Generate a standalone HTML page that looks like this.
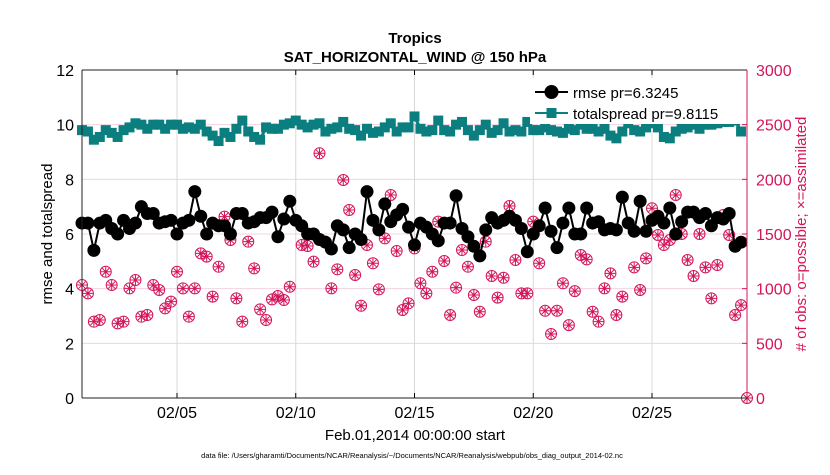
<!DOCTYPE html>
<html><head><meta charset="utf-8">
<style>
body{margin:0;background:#fff;}
svg text{font-family:"Liberation Sans",sans-serif;}
</style></head>
<body>
<svg id="chart" width="830" height="470" xmlns="http://www.w3.org/2000/svg">
<rect x="0" y="0" width="830" height="470" fill="#fff"/>
<g id="grid"></g>
<g id="series"></g>
<g id="axes"></g>
<text x="415" y="43" font-size="15" font-weight="bold" text-anchor="middle">Tropics</text>
<text x="415" y="62" font-size="15" font-weight="bold" text-anchor="middle">SAT_HORIZONTAL_WIND @ 150 hPa</text>
<text transform="translate(52,234) rotate(-90)" font-size="15" text-anchor="middle">rmse and totalspread</text>
<text transform="translate(806,234) rotate(-90)" font-size="15" text-anchor="middle" fill="#d4145a"># of obs: o=possible; ×=assimilated</text>
<text x="415" y="440" font-size="15" text-anchor="middle">Feb.01,2014 00:00:00 start</text>
<text x="412" y="458" font-size="7.5" text-anchor="middle">data file: /Users/gharamti/Documents/NCAR/Reanalysis/~/Documents/NCAR/Reanalysis/webpub/obs_diag_output_2014-02.nc</text>
<g id="legend">
<rect x="530" y="78" width="214" height="46" fill="#fff"/>
<line x1="535" y1="92" x2="568" y2="92" stroke="#000" stroke-width="2"/>
<circle cx="551.5" cy="92" r="7" fill="#000"/>
<text x="573" y="98" font-size="15">rmse pr=6.3245</text>
<line x1="535" y1="113" x2="568" y2="113" stroke="#0b7f7f" stroke-width="2"/>
<rect x="546.5" y="108" width="10" height="10" fill="#0b7f7f"/>
<text x="573" y="119" font-size="15">totalspread pr=9.8115</text>
</g>
</svg>
<script>
const rmse=[6.4,6.4,5.4,6.4,6.5,6.2,6.0,6.5,6.2,6.4,7.0,6.75,6.75,6.4,6.45,6.5,6.0,6.4,6.5,7.55,6.65,6.0,6.4,6.3,6.3,6.0,6.75,6.75,6.4,6.45,6.6,6.6,6.8,5.9,6.55,7.2,6.5,6.3,6.0,6.0,5.8,5.7,5.45,6.3,6.15,5.5,6.0,5.8,7.55,6.5,6.15,7.1,6.45,6.7,6.9,6.25,5.6,6.4,6.25,6.0,5.75,6.4,6.4,7.4,6.2,5.9,5.55,5.2,6.15,6.6,6.4,6.5,6.65,6.5,6.2,5.35,6.0,6.3,6.95,6.1,5.5,6.4,6.95,6.0,6.0,6.95,6.4,6.45,6.15,6.2,6.15,7.35,6.4,6.1,7.2,6.1,6.5,6.65,6.4,6.95,6.0,6.45,6.8,6.8,6.6,6.75,6.3,6.6,6.55,6.75,5.55,5.7];
const spread=[9.8,9.75,9.45,9.55,9.8,9.7,9.55,9.8,9.9,10.05,10.0,9.85,10.0,10.0,9.85,10.0,10.0,9.85,9.9,9.85,10.0,9.75,9.6,9.4,9.7,9.55,9.85,10.15,9.75,9.55,9.45,9.9,9.85,9.85,10.0,10.05,10.15,10.0,9.9,10.0,10.05,9.75,9.85,9.9,10.1,9.85,9.8,9.6,9.85,9.7,9.75,9.9,10.05,9.75,9.9,9.9,10.3,9.85,9.75,9.8,10.15,9.8,9.75,10.0,10.1,9.8,9.6,9.8,10.0,9.7,9.8,10.05,9.75,9.8,9.75,10.1,9.8,9.8,9.9,9.8,9.75,9.7,9.85,9.8,10.0,9.85,9.85,9.75,9.85,9.6,9.5,9.75,10.05,9.8,9.75,9.9,10.05,9.9,9.55,9.5,9.75,9.85,9.9,10.0,9.85,10.0,10.0,10.05,10.1,10.1,10.15,9.75];
const obs=[1033,957,698,713,1155,1033,683,698,1003,1079,744,759,1033,988,820,881,1155,1003,744,1003,1323,1293,927,1201,1659,1445,911,698,1430,1186,811,713,902,933,896,1018,1628,1399,1390,1247,2238,1430,1003,1177,1994,1720,1125,844,1399,1232,994,1460,1857,1344,805,866,1369,1049,957,1155,1613,1253,759,1009,1354,1201,942,789,1430,1116,918,1100,1756,1262,957,957,1613,1232,798,585,798,1049,667,978,1308,1268,789,698,1003,1140,759,927,1598,1195,988,1277,1735,1491,1399,1445,1857,1500,1262,1116,1500,1195,911,1216,1674,1491,759,850,0];
const yTicks=[0,2,4,6,8,10,12];
const y2Ticks=[0,500,1000,1500,2000,2500,3000];
const xTickDays=[4,9,14,19,24];
const xTickLabels=["02/05","02/10","02/15","02/20","02/25"];

const NS="http://www.w3.org/2000/svg";
const X0=82,X1=747,Y0=398,Y1=70;
function xs(d){return X0+(X1-X0)*d/28;}
function ys(v){return Y0-(Y0-Y1)*v/12;}
function ys2(v){return Y0-(Y0-Y1)*v/3000;}
function mk(tag,attrs,parent){const e=document.createElementNS(NS,tag);for(const k in attrs)e.setAttribute(k,attrs[k]);parent.appendChild(e);return e;}
const grid=document.getElementById('grid'),ser=document.getElementById('series'),axes=document.getElementById('axes');
yTicks.forEach(function(v){if(v>0&&v<12){const g=mk('line',{x1:X0,x2:X1,y1:ys(v),y2:ys(v),stroke:'#f3d3e2','stroke-width':1},grid);

}
const t=mk('text',{x:X0-8,y:ys(v)+6,'font-size':16,'text-anchor':'end'},axes);t.textContent=v;

});
y2Ticks.forEach(function(v){mk('line',{x1:X1,x2:X1-5,y1:ys2(v),y2:ys2(v),stroke:'#d4145a'},axes);
const t=mk('text',{x:X1+9,y:ys2(v)+6,'font-size':16,fill:'#d4145a'},axes);t.textContent=v;

});
xTickDays.forEach(function(d,i){const g=mk('line',{x1:xs(d),x2:xs(d),y1:Y1,y2:Y0,stroke:'#d8d8d8'},grid);


mk('line',{x1:xs(d),x2:xs(d),y1:Y0,y2:Y0-5,stroke:'#000'},axes);mk('line',{x1:xs(d),x2:xs(d),y1:Y1,y2:Y1+5,stroke:'#000'},axes);
const t=mk('text',{x:xs(d),y:Y0+20,'font-size':16,'text-anchor':'middle'},axes);t.textContent=xTickLabels[i];

});
mk('line',{x1:X0,x2:X1,y1:Y1,y2:Y1,stroke:'#222'},axes);
mk('line',{x1:X0,x2:X1,y1:Y0,y2:Y0,stroke:'#222'},axes);
mk('line',{x1:X0,x2:X0,y1:Y1,y2:Y0,stroke:'#222'},axes);
mk('line',{x1:X1,x2:X1,y1:Y1,y2:Y0,stroke:'#d4145a'},axes);
obs.forEach(function(v,i){const cx=xs(i*0.25),cy=ys2(v);
const g=mk('g',{},ser);


mk('circle',{cx:cx,cy:cy,r:5.5,fill:'none',stroke:'#d4145a','stroke-width':1},g);
mk('path',{d:'M'+(cx-5)+' '+cy+'H'+(cx+5)+'M'+cx+' '+(cy-5)+'V'+(cy+5)+'M'+(cx-3.5)+' '+(cy-3.5)+'L'+(cx+3.5)+' '+(cy+3.5)+'M'+(cx-3.5)+' '+(cy+3.5)+'L'+(cx+3.5)+' '+(cy-3.5),stroke:'#d4145a','stroke-width':1},g);});
const sp=mk('polyline',{points:spread.map(function(v,i){return xs(i*0.25)+','+ys(v);}).join(' '),fill:'none',stroke:'#0b7f7f','stroke-width':3},ser);


spread.forEach(function(v,i){const r=mk('rect',{x:xs(i*0.25)-5,y:ys(v)-5,width:10,height:10,fill:'#0b7f7f'},ser);

});
const rl=mk('polyline',{points:rmse.map(function(v,i){return xs(i*0.25)+','+ys(v);}).join(' '),fill:'none',stroke:'#000','stroke-width':2},ser);


rmse.forEach(function(v,i){const c=mk('circle',{cx:xs(i*0.25),cy:ys(v),r:6.5,fill:'#000'},ser);

});
</script>
</body></html>
